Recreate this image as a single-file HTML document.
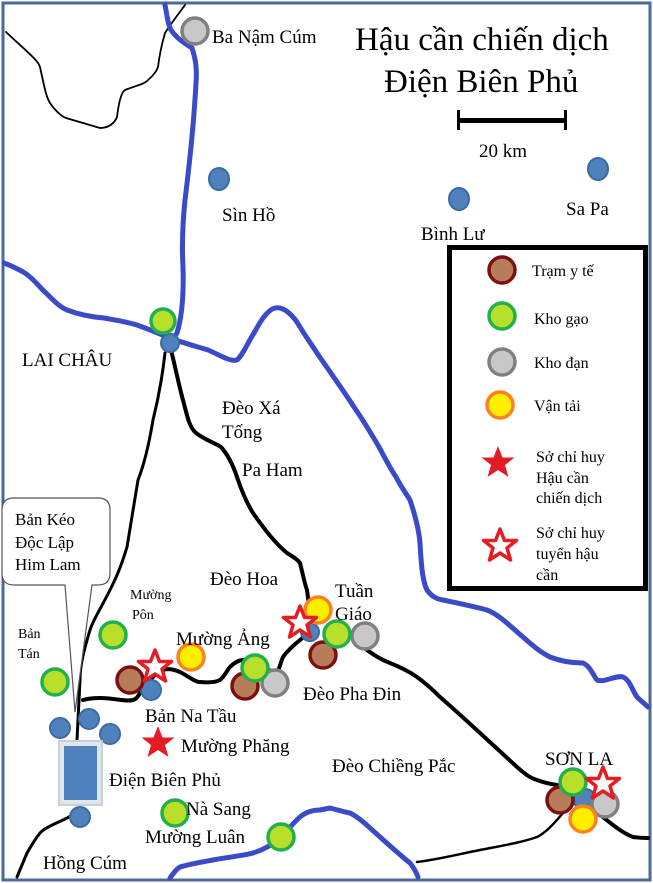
<!DOCTYPE html>
<html><head><meta charset="utf-8"><style>
html,body{margin:0;padding:0;background:#fff;}
svg{display:block;}
text{font-family:"Liberation Serif","DejaVu Serif",serif;fill:#000;}
</style></head><body>
<svg width="653" height="883" viewBox="0 0 653 883" xmlns="http://www.w3.org/2000/svg">
<rect x="0" y="0" width="653" height="883" fill="#fff"/>
<rect x="3" y="3" width="647" height="877" fill="none" stroke="#4a6a9a" stroke-width="3"/>

<!-- thin black lines -->
<g fill="none" stroke="#000" stroke-linecap="round" stroke-linejoin="round">
<path d="M6,32 C25,50 38,60 40,67 C44,85 46,97 50,103 C56,112 63,117 66,118 L100,128 C110,128 115,122 117,117 C119,100 122,92 125,90 C135,86 145,84 148,80 C155,74 157,70 158,67 C160,50 163,40 165,33 C172,22 180,12 185,5" stroke-width="1.8"/>
<path d="M165,353 C162,380 158,400 153,420 C148,450 142,470 138,480 C133,510 130,530 127,547 C120,570 115,580 110,590 C100,610 93,620 90,630 C84,650 80,665 80,680 L77,740" stroke-width="3"/>
<path d="M80,810 C72,815 68,818 63,820 C52,825 45,828 40,833 C33,842 30,848 27,853 L17,877" stroke-width="3"/>
<path d="M563,813 C552,826 545,833 537,837 C520,843 500,846 480,850 C455,855 435,860 417,862" stroke-width="2.5"/>
</g>

<!-- thick roads -->
<g fill="none" stroke="#000" stroke-width="4" stroke-linecap="round" stroke-linejoin="round">
<path d="M171,350 C176,370 180,390 183,400 C188,420 190,428 196,433 C205,440 215,443 221,447 C228,455 233,465 237,477 C243,495 248,505 253,513 C265,530 275,543 287,553 C295,558 298,560 300,563 C303,575 305,585 307,590 L310,613"/>
<path d="M83,700 C90,698 95,698 100,698 C115,698 125,702 133,700 C137,699 138,696 140,693 C148,683 155,672 163,670 C170,668 175,670 180,672 C188,676 195,682 200,682 C210,683 216,682 220,680 C225,676 227,670 230,667 C235,662 240,660 243,660 C252,660 258,665 263,667 C268,670 272,672 277,672 C280,668 281,661 283,657 C288,650 295,644 300,640 C305,636 310,632 313,630"/>
<path d="M367,650 C375,656 382,660 390,663 C400,667 410,672 417,677 C428,685 435,692 440,697 C455,710 468,722 480,733 C493,745 505,756 517,767 C525,774 530,778 537,780 C545,783 550,784 557,785"/>
<path d="M600,815 C610,822 620,832 633,837 C640,838 645,838 648,838"/>
</g>

<!-- rivers -->
<g fill="none" stroke="#3b4bc8" stroke-width="5" stroke-linecap="round" stroke-linejoin="round">
<path d="M165,5 C167,15 168,25 171,30 C178,40 186,44 192,48 C196,60 197,70 196,83 C194,120 190,160 185,200 C182,230 182,250 183,267 C184,300 181,320 177,333 L170,343"/>
<path d="M4,263 C12,266 18,269 25,273 C35,280 40,288 46,293 C55,302 60,307 67,310 C80,315 92,317 104,318 C115,320 128,322 137,325 C148,329 158,333 167,337 C180,342 195,346 208,350 C220,355 230,362 237,360 C243,355 248,342 254,333 C260,322 267,310 275,308 C285,306 295,318 300,327 C306,337 312,345 317,353 C330,372 343,390 354,407 C363,420 372,435 379,447 C385,458 390,468 396,477 C400,485 405,492 410,500 C415,515 419,530 420,543 C421,560 422,580 427,590 C432,597 437,599 443,600 C457,603 472,606 487,610 C500,615 512,628 523,637 C532,645 540,652 550,657 C560,661 572,663 583,663 C590,666 593,675 597,680 C605,683 615,675 623,677 C630,680 632,690 637,697 C641,701 645,704 648,707"/>
<path d="M170,878 C173,874 176,869 180,867 C190,864 202,862 213,860 C228,857 242,856 253,853 C263,850 272,845 280,838 C288,830 294,822 300,817 C306,812 313,810 320,810 L330,808 C338,810 344,812 350,813 C360,818 370,828 380,837 C390,846 400,855 410,863 C414,868 416,872 418,877"/>
</g>

<!-- blue dots -->
<g fill="#4f81bd" stroke="#3d6aa0" stroke-width="2">
<ellipse cx="219" cy="179" rx="10" ry="11"/>
<ellipse cx="459" cy="199" rx="10" ry="11"/>
<ellipse cx="598" cy="169" rx="10" ry="11"/>
<circle cx="170" cy="343" r="9"/>
<circle cx="60" cy="728" r="10"/>
<circle cx="89" cy="719" r="10"/>
<circle cx="110" cy="734" r="10"/>
<circle cx="80" cy="817" r="10"/>
<circle cx="151" cy="690" r="10"/>
<circle cx="310" cy="632" r="9"/>
<circle cx="585" cy="800" r="11"/>
</g>
<rect x="59" y="741" width="43" height="64" fill="#dfe6ee" stroke="#c8d0da" stroke-width="2"/>
<rect x="64" y="746" width="33" height="54" fill="#4f81bd"/>

<!-- markers -->
<g stroke-width="3.5">
<g fill="#b87c5a" stroke="#7b1010">
<circle cx="130" cy="680" r="13"/><circle cx="245" cy="686" r="13"/><circle cx="323" cy="655" r="13"/><circle cx="560" cy="800" r="13"/>
</g>
<g fill="#c8c8c8" stroke="#808080">
<circle cx="195" cy="31" r="13"/><circle cx="275" cy="683" r="13"/><circle cx="365" cy="636" r="13"/><circle cx="605" cy="804" r="13"/>
</g>
<g fill="#b8e02a" stroke="#22b04a">
<circle cx="163" cy="321" r="12"/><circle cx="113" cy="635" r="13"/><circle cx="55" cy="682" r="13"/><circle cx="255" cy="668" r="13"/><circle cx="337" cy="634" r="13"/><circle cx="175" cy="813" r="13"/><circle cx="281" cy="837" r="13"/><circle cx="573" cy="782" r="13"/>
</g>
<g fill="#ffee00" stroke="#ff8020">
<circle cx="191" cy="657" r="13"/><circle cx="318" cy="610" r="13"/><circle cx="583" cy="819" r="13"/>
</g>
</g>

<!-- stars -->
<defs>
<polygon id="st" points="0,-17 4.5,-5.5 16.5,-5.5 7,2 10.5,14 0,7 -10.5,14 -7,2 -16.5,-5.5 -4.5,-5.5"/>
</defs>
<g fill="#fff" stroke="#e41c23" stroke-width="3.5" stroke-linejoin="round">
<use href="#st" x="155" y="667" transform=""/>
<use href="#st" x="300" y="623"/>
<use href="#st" x="603" y="784"/>
<use href="#st" x="500" y="546" />
</g>
<g fill="#e41c23">
<use href="#st" x="158" y="743"/>
<use href="#st" x="498" y="463"/>
</g>

<!-- bubble -->
<path d="M14,498 H98 Q110,498 110,510 V573 Q110,585 98,585 H92 L75,712 L65,585 H14 Q2,585 2,573 V510 Q2,498 14,498 Z" fill="#fff" stroke="#555" stroke-width="1.2"/>

<!-- scale bar -->
<rect x="458" y="118" width="108" height="5" fill="#000"/>
<rect x="457" y="110" width="3" height="20" fill="#000"/>
<rect x="564" y="110" width="3" height="20" fill="#000"/>

<!-- legend -->
<rect x="449.5" y="247.5" width="196" height="341" fill="none" stroke="#000" stroke-width="5"/>
<g stroke-width="3.5">
<circle cx="502" cy="270" r="13" fill="#b87c5a" stroke="#7b1010"/>
<circle cx="502" cy="316" r="13" fill="#b8e02a" stroke="#22b04a"/>
<circle cx="502" cy="362" r="13" fill="#c8c8c8" stroke="#808080"/>
<circle cx="500" cy="405" r="13" fill="#ffee00" stroke="#ff8020"/>
</g>
<g font-size="16">
<text x="532" y="276">Trạm y tế</text>
<text x="534" y="324">Kho gạo</text>
<text x="534" y="368">Kho đạn</text>
<text x="534" y="411">Vận tải</text>
<text x="536" y="462">Sở chỉ huy</text>
<text x="536" y="483">Hậu cần</text>
<text x="536" y="503">chiến dịch</text>
<text x="536" y="538">Sở chỉ huy</text>
<text x="536" y="559">tuyển hậu</text>
<text x="536" y="580">cần</text>
</g>

<!-- titles -->
<text x="355" y="50" font-size="33">Hậu cần chiến dịch</text>
<text x="384" y="92" font-size="33">Điện Biên Phủ</text>
<text x="479" y="157" font-size="19">20 km</text>

<g font-size="19">
<text x="212" y="43">Ba Nậm Cúm</text>
<text x="222" y="221">Sìn Hồ</text>
<text x="421" y="240">Bình Lư</text>
<text x="566" y="215">Sa Pa</text>
<text x="22" y="366">LAI CHÂU</text>
<text x="222" y="414">Đèo Xá</text>
<text x="222" y="438">Tống</text>
<text x="242" y="476">Pa Ham</text>
<text x="210" y="585">Đèo Hoa</text>
<text x="335" y="597">Tuần</text>
<text x="335" y="620">Giáo</text>
<text x="176" y="645">Mường Ảng</text>
<text x="303" y="700">Đèo Pha Đin</text>
<text x="145" y="722">Bản Na Tầu</text>
<text x="181" y="752">Mường Phăng</text>
<text x="332" y="772">Đèo Chiềng Pắc</text>
<text x="109" y="786">Điện Biên Phủ</text>
<text x="186" y="815">Nà Sang</text>
<text x="145" y="843">Mường Luân</text>
<text x="43" y="869">Hồng Cúm</text>
<text x="545" y="765">SƠN LA</text>
</g>
<g font-size="17">
<text x="15" y="525">Bản Kéo</text>
<text x="15" y="548">Độc Lập</text>
<text x="15" y="570">Him Lam</text>
</g>
<g font-size="14">
<text x="130" y="599">Mường</text>
<text x="132" y="619">Pôn</text>
<text x="18" y="638">Bản</text>
<text x="18" y="658">Tán</text>
</g>
</svg>
</body></html>
